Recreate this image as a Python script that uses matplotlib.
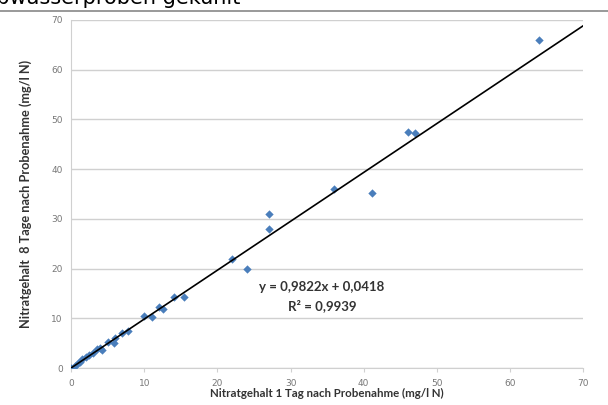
import numpy as np
from matplotlib import pyplot as plt
from matplotlib.lines import Line2D

# Nitratgehalt 1 Tag / 8 Tage nach Probenahme (mg/l N)
tag1 = [0.0, 0.2, 0.5, 1.0, 1.2, 1.5, 2.0, 2.5, 3.0, 3.5, 4.0, 4.2, 5.0, 5.8, 6.0,
        7.0, 7.8, 10.0, 11.0, 12.0, 12.5, 14.0, 15.5, 22.0, 24.0, 27.0, 27.0,
        36.0, 41.2, 46.0, 47.0, 64.0]
tag8 = [0.0, 0.1, 0.5, 1.1, 1.2, 1.8, 2.2, 2.6, 3.0, 3.8, 4.0, 3.7, 5.3, 5.0, 6.0,
        7.0, 7.5, 10.5, 10.3, 12.2, 11.8, 14.2, 14.3, 22.0, 20.0, 31.0, 28.0,
        36.0, 35.3, 47.5, 47.2, 66.0]
slope = 0.9822
intercept = 0.0418
r2 = 0.9939

fig = plt.figure(figsize=(6.08, 4.05), dpi=100)
ax = fig.add_axes([0.117, 0.091, 0.842, 0.860])

grid_c = '#d0d0d0'
lab_font = 'Lato'
ax.scatter(tag1, tag8, marker='D', s=18, color='#4a7ebb', zorder=3, linewidths=0)

xs = np.linspace(0, 70, 200)
ax.plot(xs, slope * xs + intercept, color='black', lw=1.2, zorder=4)

ax.set_xlim(0, 70)
ax.set_ylim(0, 70)
ax.set_xticks(range(0, 71, 10))
ax.set_yticks(range(0, 71, 10))
ax.grid(axis='y', color=grid_c, lw=1)
ax.set_axisbelow(True)
for s in ['top', 'right']:
    ax.spines[s].set_visible(False)
for s in ['left', 'bottom']:
    ax.spines[s].set_color(grid_c)
ax.tick_params(axis='x', colors=grid_c, labelcolor='#777777', labelsize=6.5, length=3, pad=5)
ax.tick_params(axis='y', length=0, labelcolor='#777777', labelsize=6.5, pad=6)

ax.set_xlabel('Nitratgehalt 1 Tag nach Probenahme (mg/l N)', fontsize=8.3,
              fontweight='bold', color='#333333', family=lab_font, labelpad=0)
ax.set_ylabel('Nitratgehalt  8 Tage nach Probenahme (mg/l N)', fontsize=9.2,
              fontweight='bold', color='#333333', family=lab_font, labelpad=14)

ax.text(34.3, 16.3, f'y = {slope:.4f}x + {intercept:.4f}'.replace('.', ','),
        ha='center', va='center', fontsize=9.5, fontweight='bold', color='#333333',
        family=lab_font)
ax.text(34.3, 12.6, f'R² = {r2:.4f}'.replace('.', ','),
        ha='center', va='center', fontsize=9.5, fontweight='bold', color='#333333',
        family=lab_font)

# abgeschnittener Titel oben
fig.text(-0.03, 1.03, 'Abwasserproben gekühlt', fontsize=15, va='top', ha='left',
         color='black')
fig.add_artist(Line2D([0, 1], [0.972, 0.972], color='#888888', lw=1.2,
                      transform=fig.transFigure))

fig.savefig('out.png', dpi=100)
